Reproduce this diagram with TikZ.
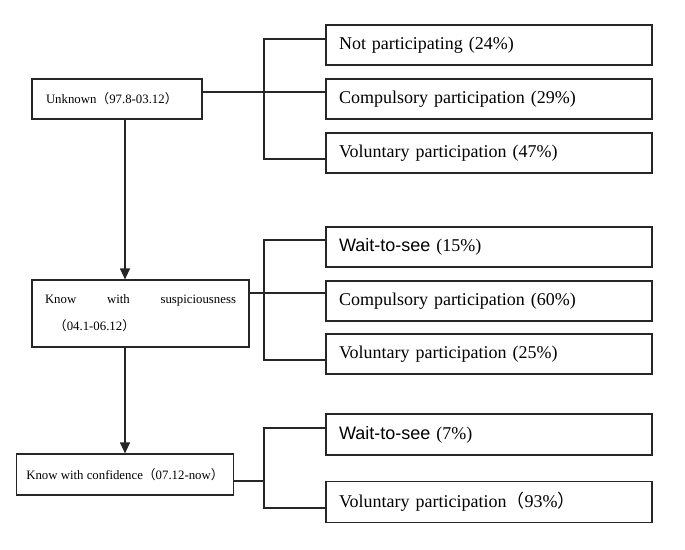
\documentclass[tikz,border=0pt]{standalone}
\usepackage{fontspec}
\setmainfont{Liberation Serif}
\setsansfont{Liberation Sans}
\newfontfamily\cjk{Noto Sans CJK SC}
\usetikzlibrary{arrows.meta}

\begin{document}
\begin{tikzpicture}[x=1pt,y=-1pt,
	stage/.style={draw=black!85,line width=1.2pt,rectangle,inner ysep=0pt,font=\fontsize{12.8}{15}\selectfont},
	share/.style={draw=black!85,line width=1.2pt,rectangle,text width=300pt,inner xsep=13pt,inner ysep=0pt,
		minimum height=40pt,align=left,font=\fontsize{18}{21}\selectfont},
	wire/.style={draw=black!85,line width=1.2pt},
	flow/.style={wire,-{Triangle[length=11pt,width=10pt]}}]
	\useasboundingbox (0,0) rectangle (685,549);
	\node [stage,text width=142pt,inner xsep=14pt,minimum height=40pt,align=left] (unk) at (117,99) {Unknown{\cjk （}97.8-03.12{\cjk ）}};
	\node [stage,text width=191pt,inner xsep=13pt,minimum height=67pt,align=justify,
		font=\fontsize{12.8}{27}\selectfont] (susp) at (140.5,313.5) {Know with suspiciousness\linebreak\hspace*{9pt}{\cjk （}04.1-06.12{\cjk ）}};
	\node [stage,minimum width=217pt,minimum height=41pt,align=center] (conf) at (125,474.5) {Know with confidence{\cjk （}07.12-now{\cjk ）}};
	\node [share] (not) at (489,45) {Not participating (24\%)};
	\node [share] (comp1) at (489,99) {Compulsory participation (29\%)};
	\node [share] (vol1) at (489,153) {Voluntary participation (47\%)};
	\node [share] (wait2) at (489,247) {{\sffamily Wait-to-see} (15\%)};
	\node [share] (comp2) at (489,301) {Compulsory participation (60\%)};
	\node [share] (vol2) at (489,354) {Voluntary participation (25\%)};
	\node [share,minimum height=41pt] (wait3) at (489,434.5) {{\sffamily Wait-to-see} (7\%)};
	\node [share,minimum height=41pt] (vol3) at (489,502) {Voluntary participation{\cjk （}93\%{\cjk ）}};
	\coordinate (fork1) at (264,92);
	\coordinate (fork2) at (264,293);
	\coordinate (fork3) at (264,481);
	\draw [wire] ([yshift=7pt]unk.east) -- ([yshift=7pt]comp1.west);
	\draw [wire] ([yshift=6pt]not.west) -| (fork1) |- ([yshift=-6pt]vol1.west);
	\draw [wire] ([yshift=8pt]comp2.west -| susp.east) -- ([yshift=8pt]comp2.west);
	\draw [wire] ([yshift=7pt]wait2.west) -| (fork2) |- ([yshift=-6pt]vol2.west);
	\draw [wire] ([yshift=-6.5pt]conf.east) -- (fork3);
	\draw [wire] ([yshift=6.5pt]wait3.west) -| (fork3) |- ([yshift=-6pt]vol3.west);
	\draw [flow] (unk.south -| conf.north) -- (susp.north -| conf.north);
	\draw [flow] (susp.south -| conf.north) -- (conf.north);
\end{tikzpicture}
\end{document}
